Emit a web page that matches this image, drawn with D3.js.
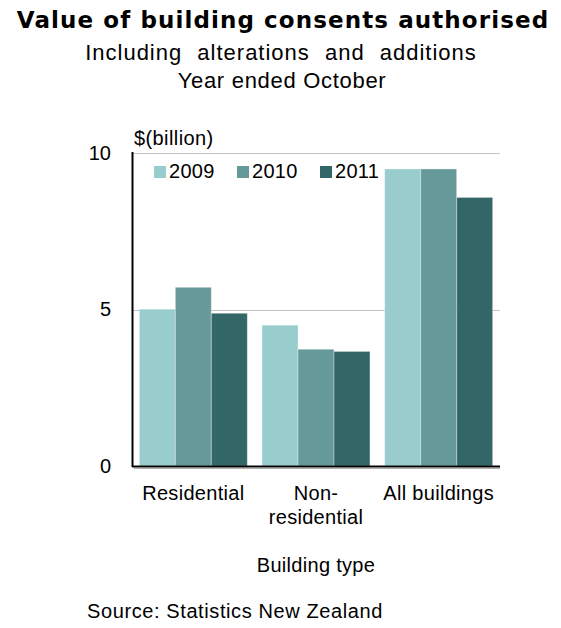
<!DOCTYPE html>
<html>
<head>
<meta charset="utf-8">
<script src="https://cdn.jsdelivr.net/npm/d3@7"></script>
<style>
  html, body { margin: 0; padding: 0; background: #fff; }
  svg { display: block; }
  text { font-family: "Liberation Sans", Arial, sans-serif; fill: #000; }
</style>
</head>
<body>
<svg id="chart" width="561" height="628"></svg>
<script>
// Building consents, $ billion, year ended October
const categories = ["Residential", "Non-residential", "All buildings"];
const categoryLines = [["Residential"], ["Non-", "residential"], ["All buildings"]];
const years = ["2009", "2010", "2011"];
const values2009 = [5.01, 4.50, 9.49];
const values2010 = [5.71, 3.73, 9.49];
const values2011 = [4.88, 3.66, 8.58];
const yTicks = [0, 5, 10];

const seriesValues = [values2009, values2010, values2011];
const colors = ["#99cccc", "#669999", "#336666"];

const svg = d3.select("#chart");

const plot = { left: 132, right: 500, top: 153, bottom: 466 };

const x0 = d3.scaleBand()
  .domain(categories)
  .range([plot.left, plot.right])
  .paddingInner(0.12)
  .paddingOuter(0.06);

const x1 = d3.scaleBand()
  .domain(years)
  .range([0, x0.bandwidth()])
  .padding(0);

const y = d3.scaleLinear().domain([0, 10]).range([plot.bottom, plot.top]);

// Titles
svg.append("text")
  .attr("x", 283).attr("y", 28)
  .attr("text-anchor", "middle")
  .style("font-family", "'DejaVu Sans', Verdana, sans-serif")
  .style("font-weight", "bold")
  .style("font-size", "23px")
  .style("letter-spacing", "1.1px")
  .text("Value of building consents authorised");

svg.append("text")
  .attr("x", 281).attr("y", 60)
  .attr("text-anchor", "middle")
  .style("font-size", "22px")
  .style("letter-spacing", "1px")
  .style("word-spacing", "8px")
  .text("Including alterations and additions");

svg.append("text")
  .attr("x", 282).attr("y", 88)
  .attr("text-anchor", "middle")
  .style("font-size", "22px")
  .style("letter-spacing", "0.7px")
  .text("Year ended October");

// Gridlines
svg.append("g")
  .selectAll("line")
  .data(yTicks.filter(d => d > 0))
  .join("line")
  .attr("x1", plot.left).attr("x2", plot.right)
  .attr("y1", d => Math.round(y(d)) + 0.5).attr("y2", d => Math.round(y(d)) + 0.5)
  .attr("stroke", "#c4c4c4")
  .attr("stroke-width", 1);

// Bars
const groups = svg.append("g")
  .selectAll("g")
  .data(categories)
  .join("g")
  .attr("transform", d => `translate(${x0(d)},0)`);

groups.selectAll("rect")
  .data((c, i) => years.map((yr, j) => ({ year: yr, value: seriesValues[j][i], color: colors[j] })))
  .join("rect")
  .attr("x", d => x1(d.year))
  .attr("y", d => y(d.value))
  .attr("width", x1.bandwidth())
  .attr("height", d => y(0) - y(d.value))
  .attr("fill", d => d.color)
  .attr("stroke", "rgba(255,255,255,0.35)")
  .attr("stroke-width", 1);

// Y axis
const yAxis = d3.axisLeft(y).tickValues(yTicks).tickSize(0).tickPadding(21).tickFormat(d3.format("d"));
const yG = svg.append("g").attr("transform", `translate(${plot.left},0)`).call(yAxis);
yG.select(".domain").remove();
yG.selectAll("text").style("font-size", "20px").style("font-family", "'Liberation Sans', Arial, sans-serif");

// Axis lines
svg.append("line")
  .attr("x1", plot.left + 0.5).attr("x2", plot.left + 0.5)
  .attr("y1", plot.top - 1).attr("y2", plot.bottom + 1)
  .attr("stroke", "#000").attr("stroke-width", 2);
svg.append("line")
  .attr("x1", plot.left).attr("x2", plot.right)
  .attr("y1", plot.bottom + 0.5).attr("y2", plot.bottom + 0.5)
  .attr("stroke", "#000").attr("stroke-width", 2);
svg.append("line")
  .attr("x1", plot.left + 2).attr("x2", plot.right)
  .attr("y1", plot.bottom + 2.5).attr("y2", plot.bottom + 2.5)
  .attr("stroke", "#b0b0b0").attr("stroke-width", 1);

// Unit label
svg.append("text")
  .attr("x", 134).attr("y", 145)
  .style("font-size", "20px")
  .style("letter-spacing", "0.4px")
  .text("$(billion)");

// Category labels
svg.append("g")
  .selectAll("text")
  .data(categories)
  .join("text")
  .attr("text-anchor", "middle")
  .style("font-size", "20px")
  .style("letter-spacing", "0.3px")
  .each(function (d, i) {
    const t = d3.select(this);
    categoryLines[i].forEach((line, k) => {
      t.append("tspan")
        .attr("x", x0(d) + x0.bandwidth() / 2)
        .attr("y", 500 + k * 24)
        .text(line);
    });
  });

// Axis title
svg.append("text")
  .attr("x", (plot.left + plot.right) / 2).attr("y", 572)
  .attr("text-anchor", "middle")
  .style("font-size", "20px")
  .style("letter-spacing", "0.3px")
  .text("Building type");

// Legend
const legend = svg.append("g")
  .selectAll("g")
  .data(years)
  .join("g")
  .attr("transform", (d, i) => `translate(${154 + i * 83},166)`);
legend.append("rect")
  .attr("width", 12).attr("height", 12)
  .attr("fill", (d, i) => colors[i]);
legend.append("text")
  .attr("x", 15).attr("y", 12)
  .style("font-size", "20px")
  .style("letter-spacing", "0.3px")
  .text(d => d);

// Source
svg.append("text")
  .attr("x", 87).attr("y", 618)
  .style("font-size", "20px")
  .style("letter-spacing", "0.6px")
  .text("Source: Statistics New Zealand");
</script>
</body>
</html>
